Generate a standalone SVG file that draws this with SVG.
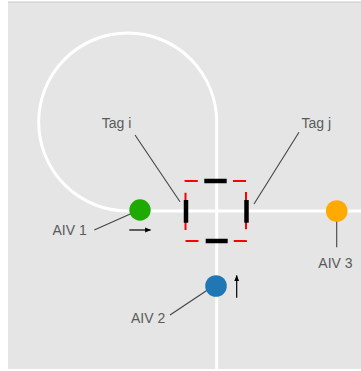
<svg xmlns="http://www.w3.org/2000/svg" width="361" height="371" viewBox="0 0 361 371">
<defs>
<style>
.track{fill:none;stroke:#ffffff;stroke-width:3}
.lead{stroke:#444444;stroke-width:1.1;fill:none}
.lbl{font-family:"Liberation Sans",Arial,sans-serif;font-size:14px;fill:#5a5a5a}
.tag{stroke:#000000;stroke-width:4.5;fill:none}
.mv{stroke:#000000;stroke-width:1.2;fill:none}
.box{fill:none;stroke:#ff0000;stroke-width:2;stroke-dasharray:13 11.1}
</style>
<marker id="ah" viewBox="0 0 10 10" refX="9" refY="5" markerWidth="6" markerHeight="6" markerUnits="userSpaceOnUse" orient="auto">
<path d="M0,1 L10,5 L0,9 Z" fill="#000000"/>
</marker>
</defs>
<rect x="0" y="0" width="361" height="371" fill="#ffffff"/>
<rect x="8" y="2" width="353" height="367" fill="#e5e5e5"/>
<line x1="8" y1="2" x2="361" y2="2" stroke="#c9c9c9" stroke-width="1"/>
<g id="track">
<path class="track" d="M216.7,371 L216.7,122 A89,89 0 1 0 127.7,211 L361,211"/>
</g>
<g id="intersection">
<path class="box" d="M185.5,241 H246 V181 H185.5 Z"/>
</g>
<g id="tags">
<line class="tag" x1="204.3" y1="181" x2="226.7" y2="181"/>
<line class="tag" x1="205.7" y1="241" x2="227.7" y2="241"/>
<line class="tag" x1="186" y1="200" x2="186" y2="222.7"/>
<line class="tag" x1="246.5" y1="200" x2="246.5" y2="222.7"/>
</g>
<g id="connectors">
<line class="lead" x1="135" y1="135" x2="180" y2="201.7"/>
<line class="lead" x1="299" y1="132.3" x2="254" y2="204"/>
<line class="lead" x1="94.3" y1="230" x2="137" y2="211"/>
<line class="lead" x1="170" y1="315" x2="212" y2="287"/>
<line class="lead" x1="336.7" y1="212" x2="336.7" y2="247.3"/>
<line class="mv" x1="129.3" y1="230" x2="150.5" y2="230" marker-end="url(#ah)"/>
<line class="mv" x1="236.7" y1="297.7" x2="236.7" y2="275.5" marker-end="url(#ah)"/>
</g>
<g id="aiv1"><circle cx="140" cy="210" r="10.7" fill="#1faa00"/></g>
<g id="aiv2"><circle cx="216" cy="286" r="10.8" fill="#1f77b4"/></g>
<g id="aiv3"><circle cx="336.7" cy="211" r="10.8" fill="#ffaa00"/></g>
<g id="labels">
<text class="lbl" x="101.7" y="128">Tag i</text>
<text class="lbl" x="301.5" y="128">Tag j</text>
<text class="lbl" x="52.5" y="235">AIV 1</text>
<text class="lbl" x="131" y="323">AIV 2</text>
<text class="lbl" x="318.3" y="267.7">AIV 3</text>
</g>
</svg>
